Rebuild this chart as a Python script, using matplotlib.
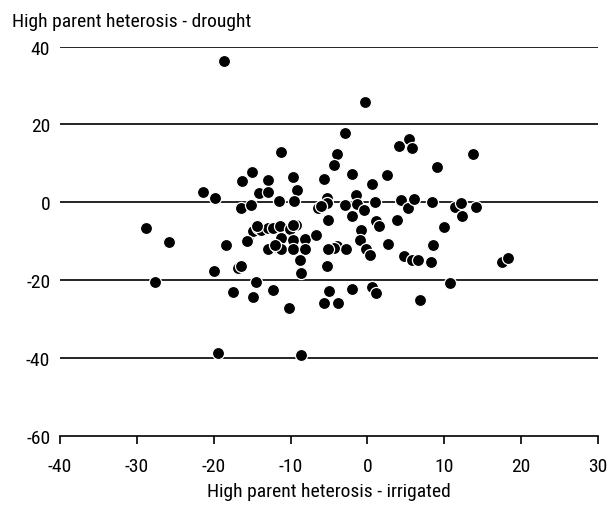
import os
import matplotlib
matplotlib.use("Agg")
import matplotlib.pyplot as plt
from matplotlib import font_manager

# High parent heterosis (%) of each hybrid under both water regimes
irrigated = [
    -18.7, -0.3, -2.9, -11.25, -4.0, -4.3, 4.1, 5.45, 5.8, 9.1,
    13.7, -15.06, -16.3, -13.0, -9.7, -5.7, -1.95, 2.5, 0.65, -21.4,
    -19.8, -14.1, -13.0, -9.1, -11.55, -9.55, -16.4, -15.2, -6.4, -5.3,
    -5.25, -2.9, -1.5, -1.4, -0.4, -2.05, 1.0, -5.1, 1.1, 1.5,
    -0.8, 4.4, 5.3, 6.0, 8.35, 3.8, 10.0, 11.4, 12.2, 12.35,
    14.1, 2.7, -1.0, -0.2, 0.4, -3.9, -2.8, -4.4, 4.8, 5.75,
    6.6, 8.5, 8.3, 17.55, 18.25, 10.7, -5.0, -5.65, -3.8, -2.05,
    0.55, 1.1, 6.85, -28.8, -25.8, -18.4, -15.5, -14.85, -14.2, -20.0,
    -16.9, -16.4, -27.7, -14.5, -17.45, -14.85, -19.4, -8.65, -13.8, -12.9,
    -12.25, -11.4, -10.1, -9.25, -11.2, -9.65, -8.1, -6.7, -13.0, -11.8,
    -11.2, -9.7, -8.1, -8.8, -5.1, -5.3, -8.65, -12.25, -10.2, -15.7,
    -12.0, -14.4, -9.65, -6.0,
]
drought = [
    36.2, 25.7, 17.9, 12.8, 12.5, 9.6, 14.5, 16.2, 13.9, 9.05,
    12.4, 7.9, 5.5, 5.8, 6.4, 6.1, 7.3, 6.9, 4.7, 2.6,
    1.0, 2.4, 2.6, 3.2, 0.3, 0.4, -1.5, -0.7, -1.5, 1.1,
    -0.2, -0.6, 1.9, -0.4, -2.0, -3.4, 0.1, -4.6, -4.9, -6.2,
    -7.0, 0.7, -1.5, 0.85, 0.0, -4.5, -6.3, -1.3, -0.2, -3.6,
    -1.3, -10.7, -9.8, -11.9, -13.4, -11.3, -12.1, -11.7, -13.8, -14.7,
    -14.7, -10.9, -15.4, -15.3, -14.3, -20.7, -22.8, -25.8, -25.8, -22.2,
    -21.8, -23.4, -25.1, -6.6, -10.3, -10.9, -9.6, -7.4, -6.6, -17.7,
    -16.8, -16.4, -20.4, -20.4, -23.0, -24.4, -38.8, -39.1, -7.0, -6.5,
    -6.5, -6.2, -6.8, -5.7, -9.2, -9.6, -9.4, -8.3, -12.0, -11.5,
    -12.1, -12.0, -12.0, -14.9, -12.0, -16.3, -18.1, -22.4, -27.1, -9.9,
    -10.9, -6.0, -5.7, -1.0,
]

x_ticks = [-40, -30, -20, -10, 0, 10, 20, 30]
y_ticks = [-60, -40, -20, 0, 20, 40]
x_label = "High parent heterosis - irrigated"
y_label = "High parent heterosis - drought"


def narrow_font(size):
    """Pick a condensed sans-serif face if one is installed."""
    wanted = ["LiberationSansNarrow-Regular", "RobotoCondensed-Regular",
              "OpenSans_Condensed-Regular", "DejaVuSansCondensed."]
    files = [f.fname for f in font_manager.fontManager.ttflist]
    for key in wanted:
        for path in files:
            if key in os.path.basename(path):
                return font_manager.FontProperties(fname=path, size=size)
    return font_manager.FontProperties(family="DejaVu Sans", size=size)


plt.rcParams["axes.unicode_minus"] = False
fp = narrow_font(14)

fig = plt.figure(figsize=(6.13, 5.06), dpi=100)
ax = fig.add_axes([0.0979, 0.1364, 0.8776, 0.7696])

ax.set_xlim(-40, 30)
ax.set_ylim(-60, 40)
ax.set_xticks(x_ticks)
ax.set_yticks(y_ticks)

# horizontal reference lines at each y tick
for yv in y_ticks[1:]:
    ax.axhline(yv, color="black", lw=1.2, zorder=1)

ax.scatter(irrigated, drought, s=76, c="black", edgecolors="white",
           linewidths=0.9, zorder=3, clip_on=False)

for side in ["top", "right", "left"]:
    ax.spines[side].set_visible(False)
ax.spines["bottom"].set_linewidth(1.2)

ax.tick_params(axis="x", direction="out", length=6, width=1.2, pad=9)
ax.tick_params(axis="y", length=0, pad=7)
for lbl in ax.get_xticklabels() + ax.get_yticklabels():
    lbl.set_fontproperties(fp)

ax.set_xlabel(x_label, fontproperties=fp, labelpad=5)
fig.text(12 / 613, 1 - 22 / 506, y_label, fontproperties=fp,
         ha="left", va="center")

fig.savefig("out.png", dpi=100)
